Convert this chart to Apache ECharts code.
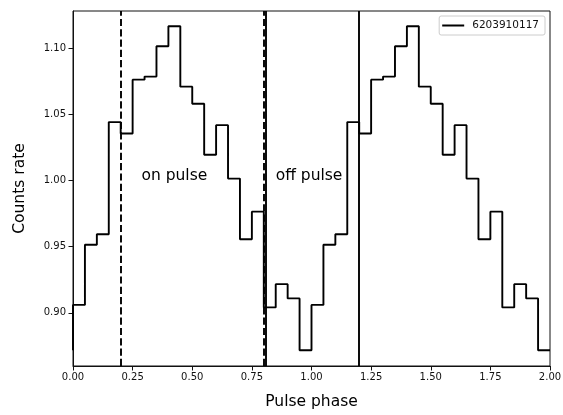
<!DOCTYPE html>
<html>
<head>
<meta charset="utf-8">
<title>Pulse profile</title>
<script src="https://cdn.jsdelivr.net/npm/echarts@6/dist/echarts.min.js"></script>
<style>
  html, body { margin: 0; padding: 0; background: #fff; }
  #chart { width: 563px; height: 415px; }
</style>
</head>
<body>
<div id="chart"></div>
<script>
// Folded light curve: 20 phase bins, shown over two cycles
const obsId = '6203910117';
const binWidth = 0.05;
const cycles = 2;
const countsRate = [
  0.906, 0.9515, 0.9594, 1.0442, 1.0356, 1.0763, 1.0786, 1.1015, 1.1167, 1.0710,
  1.0581, 1.0195, 1.0419, 1.0015, 0.9556, 0.9765, 0.9041, 0.9217, 0.9109, 0.8717
];
const xTicks = [0, 0.25, 0.5, 0.75, 1.0, 1.25, 1.5, 1.75, 2.0];
const yTicks = [0.90, 0.95, 1.00, 1.05, 1.10];

// Phase window boundaries
const onPulseEdges = [0.2, 0.8];
const offPulseEdges = [0.81, 1.2];
const windowLabels = [
  { text: 'on pulse', phase: 0.287, rate: 1.0 },
  { text: 'off pulse', phase: 0.85, rate: 1.0 }
];

// Step points: value of each bin is drawn up to its right edge
const nBins = countsRate.length;
const stepData = [[0, countsRate[nBins - 1]]];
for (let k = 1; k <= nBins * cycles; k++) {
  stepData.push([+(k * binWidth).toFixed(4), countsRate[(k - 1) % nBins]]);
}

const font = 'DejaVu Sans';
const ink = '#000';
const dash = [7.2, 3.1];

const chart = echarts.init(document.getElementById('chart'), null, { renderer: 'canvas' });

chart.setOption({
  animation: false,
  backgroundColor: '#fff',
  textStyle: { fontFamily: font },
  grid: {
    left: 73, right: 13, top: 11, bottom: 49,
    outerBoundsMode: 'none',
    containLabel: false,
    show: true, borderColor: '#111', borderWidth: 1, backgroundColor: 'transparent'
  },
  legend: {
    right: 18, top: 16,
    data: [obsId],
    icon: 'rect',
    itemWidth: 22, itemHeight: 2,
    padding: [4, 6, 4, 3],
    borderColor: '#cccccc', borderWidth: 1, borderRadius: 2,
    backgroundColor: '#fff',
    textStyle: { fontFamily: font, fontSize: 10.5, color: '#111', padding: [0, 0, 0, 3] }
  },
  xAxis: {
    type: 'value',
    min: 0, max: 2, interval: 0.25,
    name: 'Pulse phase',
    nameLocation: 'middle',
    nameGap: 28,
    nameTextStyle: { fontFamily: font, fontSize: 15.5, color: ink },
    axisLine: { show: true, lineStyle: { color: '#111', width: 1 } },
    axisTick: { show: true, inside: false, length: 4.5, lineStyle: { color: '#111', width: 1 }, customValues: xTicks },
    axisLabel: {
      fontFamily: font, fontSize: 10, color: '#111', margin: 6,
      customValues: xTicks,
      formatter: v => v.toFixed(2)
    },
    splitLine: { show: false }
  },
  yAxis: {
    type: 'value',
    min: 0.8598, max: 1.1282,
    name: 'Counts rate',
    nameLocation: 'middle',
    nameGap: 45,
    nameRotate: 90,
    nameTextStyle: { fontFamily: font, fontSize: 15.5, color: ink },
    axisLine: { show: true, lineStyle: { color: '#111', width: 1 } },
    axisTick: { show: true, inside: false, length: 4.5, lineStyle: { color: '#111', width: 1 }, customValues: yTicks },
    axisLabel: {
      fontFamily: font, fontSize: 10, color: '#111', margin: 7,
      customValues: yTicks,
      formatter: v => v.toFixed(2)
    },
    splitLine: { show: false }
  },
  series: [
    {
      name: obsId,
      type: 'line',
      step: 'start',
      data: stepData,
      showSymbol: false,
      symbol: 'none',
      color: ink,
      lineStyle: { color: ink, width: 1.9 },
      silent: true,
      markLine: {
        silent: true,
        symbol: ['none', 'none'],
        label: { show: false },
        data: [
          ...onPulseEdges.map(x => ({ xAxis: x, lineStyle: { color: ink, width: 1.9, type: dash } })),
          ...offPulseEdges.map(x => ({ xAxis: x, lineStyle: { color: ink, width: 1.9, type: 'solid' } }))
        ]
      }
    },
    {
      name: 'windows',
      type: 'scatter',
      symbolSize: 0,
      silent: true,
      itemStyle: { opacity: 1 },
      data: windowLabels.map(d => ({ value: [d.phase, d.rate], name: d.text })),
      label: {
        show: true,
        position: 'right',
        distance: 0,
        offset: [0, -5],
        formatter: p => p.name,
        fontFamily: font,
        fontSize: 15.5,
        color: ink,
        opacity: 1
      }
    }
  ]
});
</script>
</body>
</html>
